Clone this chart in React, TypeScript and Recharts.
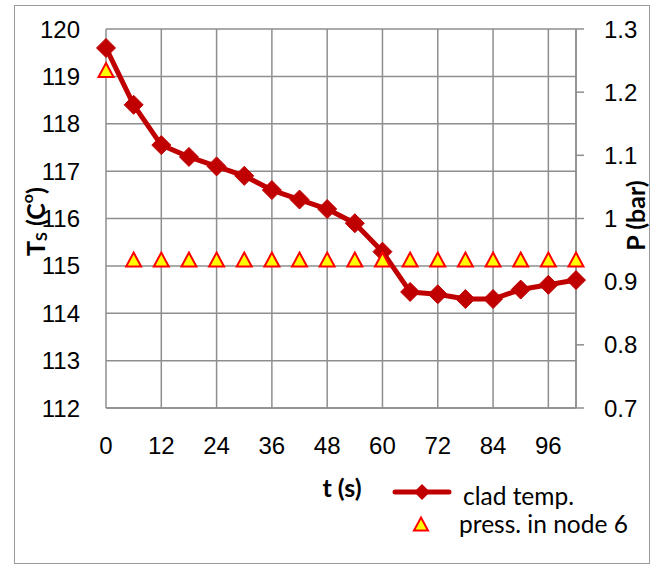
import React from 'react';
import { ComposedChart, Line, XAxis, YAxis, CartesianGrid, Legend } from 'recharts';

const times = [0, 6, 12, 18, 24, 30, 36, 42, 48, 54, 60, 66, 72, 78, 84, 90, 96, 102];
const cladTemp = [119.6, 118.4, 117.55, 117.3, 117.1, 116.9, 116.6, 116.4, 116.2, 115.9, 115.3, 114.45, 114.4, 114.3, 114.3, 114.5, 114.6, 114.7];
const pressure = [1.235, 0.935, 0.935, 0.935, 0.935, 0.935, 0.935, 0.935, 0.935, 0.935, 0.935, 0.935, 0.935, 0.935, 0.935, 0.935, 0.935, 0.935];
const xTicks = [0, 12, 24, 36, 48, 60, 72, 84, 96];
const tempTicks = [112, 113, 114, 115, 116, 117, 118, 119, 120];
const pressTicks = [0.7, 0.8, 0.9, 1.0, 1.1, 1.2, 1.3];
const seriesNames = ['clad temp.', 'press. in node 6'];

const data = times.map((t, i) => ({ t, clad: cladTemp[i], press: pressure[i] }));

const GRID = '#8e8e8e';
const RED = '#C00000';
const TICK_FONT = { fontSize: 24, fill: '#000', fontFamily: '"Liberation Sans", Arial, sans-serif' };
const TITLE_FONT = '"Lato", "Open Sans", sans-serif';
const TITLE_SIZE = 25;
const LEGEND_SIZE = 24.5;

const diamondPath = (cx: number, cy: number, r: number) =>
  `M${cx},${cy - r}L${cx + r},${cy}L${cx},${cy + r}L${cx - r},${cy}Z`;
const trianglePath = (cx: number, cy: number, w: number, h: number) =>
  `M${cx},${cy - h / 2}L${cx + w / 2},${cy + h / 2}L${cx - w / 2},${cy + h / 2}Z`;

const DiamondDot = (p: any) => {
  if (p.cx == null || p.cy == null) return <g key={`dd${p.index}`} />;
  return <path key={`dd${p.index}`} d={diamondPath(p.cx, p.cy, 9.5)} fill={RED} stroke={RED} strokeWidth={1} />;
};
const TriangleDot = (p: any) => {
  if (p.cx == null || p.cy == null) return <g key={`td${p.index}`} />;
  return <path key={`td${p.index}`} d={trianglePath(p.cx, p.cy, 15, 14)} fill="#FFFF00" stroke="#FF0000" strokeWidth={2} strokeLinejoin="miter" />;
};

const LegendContent = () => (
  <svg width={270} height={75} style={{ display: 'block' }}>
    <line x1={15} y1={22} x2={69} y2={22} stroke={RED} strokeWidth={5} strokeLinecap="round" />
    <path d={diamondPath(42, 22, 8)} fill={RED} />
    <text x={83} y={35} fontFamily={TITLE_FONT} fontSize={LEGEND_SIZE} fill="#000">{seriesNames[0]}</text>
    <path d={trianglePath(41, 54, 14, 13)} fill="#FFFF00" stroke="#FF0000" strokeWidth={2} />
    <text x={79} y={63} fontFamily={TITLE_FONT} fontSize={LEGEND_SIZE} fill="#000">{seriesNames[1]}</text>
  </svg>
);

const LeftTitle = (props: any) => {
  const vb = props.viewBox || { x: 0, y: 29, width: 106, height: 379 };
  const cx = vb.x + 35;
  const cy = vb.y + vb.height / 2 + 3;
  return (
    <text
      x={cx}
      y={cy}
      transform={`rotate(-90, ${cx}, ${cy})`}
      textAnchor="middle"
      dominantBaseline="central"
      fontFamily={TITLE_FONT}
      fontWeight="bold"
      fontSize={TITLE_SIZE}
      fill="#000"
    >
      T<tspan fontSize={16} dy={5}>S</tspan>
      <tspan dy={-5}> (C</tspan>
      <tspan fontSize={16} dy={-9}>o</tspan>
      <tspan dy={9}>)</tspan>
    </text>
  );
};

const RightTitle = (props: any) => {
  const vb = props.viewBox || { x: 576, y: 29, width: 81, height: 379 };
  const cx = vb.x + 59;
  const cy = vb.y + vb.height / 2 - 3;
  return (
    <text
      x={cx}
      y={cy}
      transform={`rotate(-90, ${cx}, ${cy})`}
      textAnchor="middle"
      dominantBaseline="central"
      fontFamily={TITLE_FONT}
      fontWeight="bold"
      fontSize={TITLE_SIZE}
      fill="#000"
    >
      P (bar)
    </text>
  );
};

const BottomTitle = (props: any) => {
  const vb = props.viewBox || { x: 106, y: 408, width: 470, height: 161 };
  return (
    <text
      x={vb.x + 236}
      y={487}
      textAnchor="middle"
      dominantBaseline="central"
      fontFamily={TITLE_FONT}
      fontWeight="bold"
      fontSize={TITLE_SIZE}
      fill="#000"
    >
      t (s)
    </text>
  );
};

const fmtP = (v: number) => String(Number(v.toFixed(1)));

export default function App() {
  return (
    <div style={{ position: 'absolute', left: 0, top: 0, width: 657, height: 569, background: '#fff' }}>
      <div
        style={{
          position: 'absolute',
          left: 14,
          top: 5,
          width: 636,
          height: 559,
          border: '1.5px solid #9a9a9a',
          boxSizing: 'border-box',
        }}
      />
      <ComposedChart
        width={657}
        height={569}
        data={data}
        margin={{ top: 29, right: 0, bottom: 0, left: 0 }}
        style={{ position: 'absolute', left: 0, top: 0 }}
      >
        <CartesianGrid yAxisId="t" stroke={GRID} strokeWidth={1.5} />
        <XAxis
          dataKey="t"
          type="number"
          domain={[0, 102]}
          ticks={xTicks}
          interval={0}
          height={161}
          tickLine={false}
          tickSize={0}
          tickMargin={29}
          axisLine={{ stroke: GRID, strokeWidth: 1.5 }}
          tick={TICK_FONT}
          label={{ content: BottomTitle }}
        />
        <YAxis
          yAxisId="t"
          orientation="left"
          width={106}
          domain={[112, 120]}
          ticks={tempTicks}
          interval={0}
          tickLine={false}
          axisLine={false}
          tickSize={0}
          tickMargin={26}
          tick={TICK_FONT}
          label={{ content: LeftTitle }}
        />
        <YAxis
          yAxisId="p"
          orientation="right"
          width={81}
          domain={[0.7, 1.3]}
          ticks={pressTicks}
          interval={0}
          tickLine={{ stroke: GRID, strokeWidth: 1.5 }}
          axisLine={{ stroke: GRID, strokeWidth: 1.5 }}
          tickSize={8}
          tickMargin={20}
          tick={TICK_FONT}
          tickFormatter={fmtP}
          label={{ content: RightTitle }}
        />
        <Line
          yAxisId="t"
          dataKey="clad"
          name={seriesNames[0]}
          type="linear"
          stroke={RED}
          strokeWidth={5}
          strokeLinejoin="round"
          dot={DiamondDot}
          activeDot={false}
          isAnimationActive={false}
        />
        <Line
          yAxisId="p"
          dataKey="press"
          name={seriesNames[1]}
          type="linear"
          stroke="none"
          strokeWidth={0}
          dot={TriangleDot}
          activeDot={false}
          isAnimationActive={false}
        />
        <Legend
          layout="vertical"
          align="center"
          verticalAlign="middle"
          content={LegendContent}
          wrapperStyle={{ left: 380, top: 470, width: 270, height: 75 }}
        />
      </ComposedChart>
    </div>
  );
}
